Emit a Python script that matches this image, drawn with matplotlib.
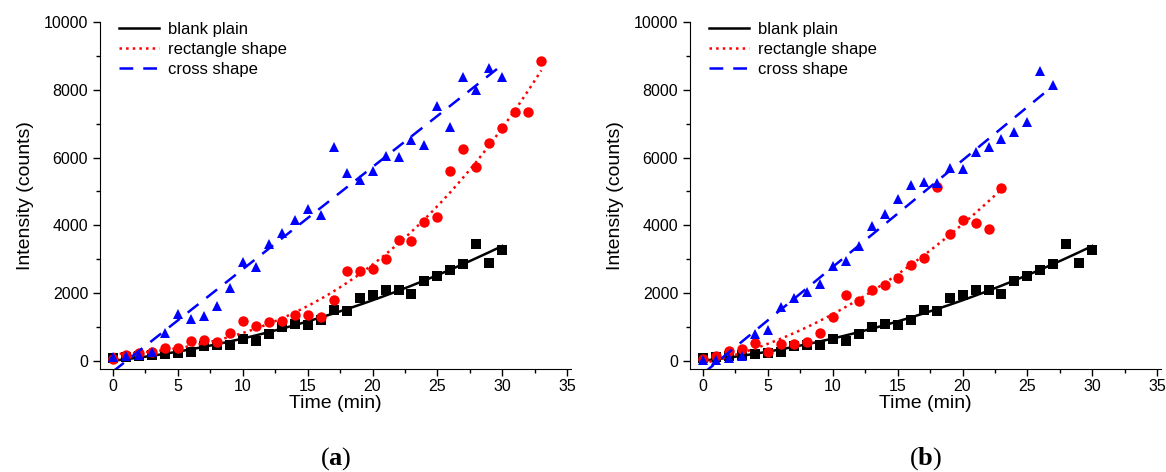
import numpy as np
import matplotlib
matplotlib.use("Agg")
import matplotlib.pyplot as plt

plt.rcParams['font.family'] = ['Liberation Sans', 'DejaVu Sans']
plt.rcParams['mathtext.fontset'] = 'custom'
plt.rcParams['mathtext.rm'] = 'Liberation Serif'
plt.rcParams['mathtext.bf'] = 'Liberation Serif:bold'

# minutes
time_a_blank = list(range(0, 31))
time_a_rect = list(range(0, 34))
time_a_cross = list(range(0, 31))
time_b_blank = list(range(0, 31))
time_b_rect = list(range(0, 24))
time_b_cross = list(range(0, 28))

# intensities (counts)
blank = [80, 100, 130, 180, 205, 225, 275, 425, 475, 455, 650, 590, 800, 990, 1095,
         1065, 1215, 1510, 1480, 1860, 1955, 2090, 2100, 1985, 2350, 2515, 2695,
         2860, 3455, 2890, 3285]
rect_a = [60, 180, 230, 260, 375, 375, 590, 610, 570, 820, 1185, 1035, 1135, 1165,
          1360, 1360, 1285, 1805, 2645, 2665, 2725, 3010, 3560, 3550, 4105, 4255,
          5600, 6245, 5735, 6425, 6875, 7330, 7330, 8840]
cross_a = [100, 130, 180, 250, 820, 1380, 1235, 1310, 1630, 2160, 2920, 2765, 3460,
           3760, 4155, 4470, 4300, 6320, 5545, 5340, 5605, 6055, 6030, 6510, 6365,
           7510, 6905, 8370, 8000, 8645, 8385]
rect_b = [60, 130, 305, 355, 520, 275, 495, 495, 570, 820, 1290, 1955, 1755, 2080,
          2250, 2445, 2840, 3040, 5140, 3730, 4145, 4055, 3905, 5090]
cross_b = [30, 30, 80, 130, 800, 915, 1580, 1855, 2025, 2270, 2810, 2940, 3385, 3980,
           4320, 4790, 5185, 5270, 5250, 5680, 5655, 6150, 6300, 6540, 6750, 7050,
           8550, 8150]

panels = [
    ("a", [(time_a_blank, blank), (time_a_rect, rect_a), (time_a_cross, cross_a)]),
    ("b", [(time_b_blank, blank), (time_b_rect, rect_b), (time_b_cross, cross_b)]),
]
labels = ['blank plain', 'rectangle shape', 'cross shape']
colors = ['black', '#ff0000', '#0000ff']
markers = ['s', 'o', '^']
msizes = [6.5, 7.5, 7.5]
styles = ['-', ':', (0, (5.5, 4))]
fit_deg = [2, 3, 1]

fig = plt.figure(figsize=(11.66, 4.72), dpi=100)
lefts = [0.0858, 0.5918]

for (tag, series), left in zip(panels, lefts):
    ax = fig.add_axes([left, 0.2182, 0.404, 0.7352])
    for i, (t, y) in enumerate(series):
        t = np.array(t, dtype=float)
        y = np.array(y, dtype=float)
        ax.plot(t, y, linestyle='none', marker=markers[i], ms=msizes[i],
                color=colors[i], markeredgewidth=0)
        deg = fit_deg[i]
        if tag == "b" and i == 1:
            deg = 2
        coef = np.polyfit(t, y, deg)
        tt = np.linspace(t.min(), t.max(), 200)
        ax.plot(tt, np.polyval(coef, tt), linestyle=styles[i], color=colors[i],
                lw=1.8, label=labels[i])

    ax.set_xlim(-1, 35.3)
    ax.set_ylim(-240, 10000)
    ax.set_xticks(range(0, 36, 5))
    ax.set_xticks(np.arange(2.5, 35, 5), minor=True)
    ax.set_yticks(range(0, 10001, 2000))
    ax.set_yticks(range(1000, 10000, 2000), minor=True)
    ax.spines['top'].set_visible(False)
    ax.spines['right'].set_visible(False)
    ax.tick_params(which='major', direction='out', length=5, width=1, labelsize=11.5)
    ax.tick_params(axis='x', which='major', pad=2)
    ax.tick_params(which='minor', direction='out', length=3, width=1)
    ax.set_xlabel('Time (min)', fontsize=14, labelpad=1)
    ax.set_ylabel('Intensity (counts)', fontsize=14, labelpad=7)
    ax.legend(loc='upper left', frameon=False, fontsize=12, handlelength=2.4,
              handletextpad=0.5, labelspacing=0.3, borderaxespad=0.2,
              bbox_to_anchor=(0.02, 1.03))
    fig.text(left + 0.202, 0.0, r'$(\mathbf{' + tag + r'})$', fontsize=19,
             ha='center', va='bottom')

fig.savefig('out.png', dpi=100)
